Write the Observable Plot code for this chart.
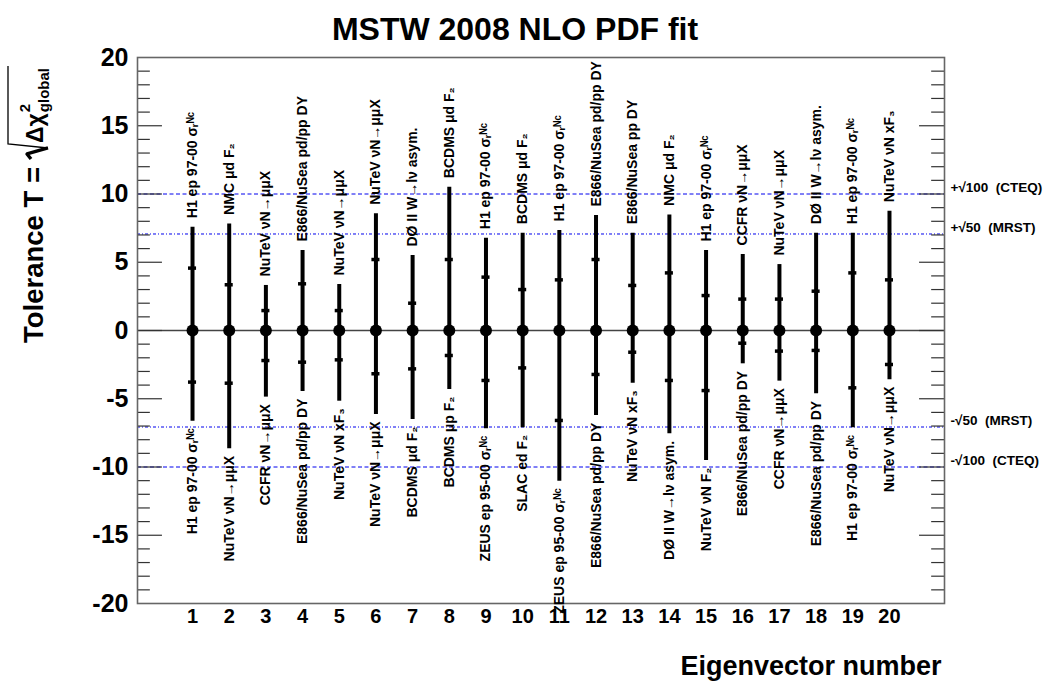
<!DOCTYPE html>
<html>
<head>
<meta charset="utf-8">
<script src="https://cdn.jsdelivr.net/npm/d3@7"></script>
<script src="https://cdn.jsdelivr.net/npm/@observablehq/plot@0.6"></script>
<style>
  body { margin: 0; padding: 0; background: #fff; }
  svg { display: block; }
</style>
</head>
<body>
<div id="chart"></div>
<script>
const eigenvectors = [1,2,3,4,5,6,7,8,9,10,11,12,13,14,15,16,17,18,19,20];
const upperOuter = [7.57, 7.81, 3.30, 5.86, 3.37, 8.55, 5.49, 10.5, 6.76, 7.13, 7.33, 8.42, 7.13, 8.47, 5.86, 5.57, 4.83, 7.13, 7.13, 8.74];
const upperInner = [4.57, 3.35, 1.46, 3.42, 1.46, 5.20, 2.00, 5.20, 3.91, 3.00, 3.71, 5.20, 3.30, 4.22, 2.56, 2.30, 2.30, 2.88, 4.22, 3.71];
const lowerOuter = [-6.64, -8.67, -4.88, -4.47, -5.18, -6.15, -6.52, -4.32, -7.20, -7.13, -11.04, -6.23, -3.86, -7.57, -9.52, -2.44, -3.71, -4.64, -7.13, -3.61];
const lowerInner = [-3.78, -3.86, -2.20, -2.32, -2.15, -3.17, -2.81, -1.83, -3.66, -2.74, -6.59, -3.22, -1.59, -3.66, -4.40, -0.93, -1.51, -1.46, -4.20, -2.49];
const upperLabels = [
  "H1 ep 97-00 σᵣᴺᶜ", "NMC μd F₂", "NuTeV νN→μμX", "E866/NuSea pd/pp DY", "NuTeV νN→μμX",
  "NuTeV νN→μμX", "DØ II W→lν asym.", "BCDMS μd F₂", "H1 ep 97-00 σᵣᴺᶜ", "BCDMS μd F₂",
  "H1 ep 97-00 σᵣᴺᶜ", "E866/NuSea pd/pp DY", "E866/NuSea pp DY", "NMC μd F₂", "H1 ep 97-00 σᵣᴺᶜ",
  "CCFR νN→μμX", "NuTeV νN→μμX", "DØ II W→lν asym.", "H1 ep 97-00 σᵣᴺᶜ", "NuTeV νN xF₃"
];
const lowerLabels = [
  "H1 ep 97-00 σᵣᴺᶜ", "NuTeV νN→μμX", "CCFR νN→μμX", "E866/NuSea pd/pp DY", "NuTeV νN xF₃",
  "NuTeV νN→μμX", "BCDMS μd F₂", "BCDMS μp F₂", "ZEUS ep 95-00 σᵣᴺᶜ", "SLAC ed F₂",
  "ZEUS ep 95-00 σᵣᴺᶜ", "E866/NuSea pd/pp DY", "NuTeV νN xF₃", "DØ II W→lν asym.", "NuTeV νN F₂",
  "E866/NuSea pd/pp DY", "CCFR νN→μμX", "E866/NuSea pd/pp DY", "H1 ep 97-00 σᵣᴺᶜ", "NuTeV νN→μμX"
];
const yTickLabels = [-20, -15, -10, -5, 0, 5, 10, 15, 20];
const minorTicks = [-19,-18,-17,-16,-14,-13,-12,-11,-9,-8,-7,-6,-4,-3,-2,-1,1,2,3,4,6,7,8,9,11,12,13,14,16,17,18,19];
const majorTicks = [-15, -10, -5, 0, 5, 10, 15];
const tolCTEQ = [10, -10];
const tolMRST = [7.07, -7.07];
const tolLabels = ["+√100  (CTEQ)", "+√50  (MRST)", "-√50  (MRST)", "-√100  (CTEQ)"];
const tolLabelValues = [10, 7.07, -7.07, -10];

const data = eigenvectors.map((e, i) => ({
  e, uo: upperOuter[i], ui: upperInner[i], lo: lowerOuter[i], li: lowerInner[i],
  top: upperLabels[i], bottom: lowerLabels[i]
}));
const inner = data.flatMap(d => [{e: d.e, v: d.ui}, {e: d.e, v: d.li}]);
const tols = tolLabelValues.map((v, i) => ({v, t: tolLabels[i]}));

const FONT = "Liberation Sans, Arial, Helvetica, sans-serif";
const xMin = -0.5, xMax = 21.5;
const majorLen = 0.68, minorLen = 0.35;

const chart = Plot.plot({
  width: 1049,
  height: 693,
  marginLeft: 137,
  marginRight: 105,
  marginTop: 57,
  marginBottom: 90,
  style: {fontFamily: FONT, fontWeight: "bold", background: "#fff", overflow: "visible"},
  x: {domain: [xMin, xMax], axis: null},
  y: {domain: [-20, 20], axis: null},
  marks: [
    Plot.ruleY(tolCTEQ, {y: d => d, stroke: "#0000ee", strokeWidth: 1, strokeDasharray: "4,2.5"}),
    Plot.ruleY(tolMRST, {y: d => d, stroke: "#0000ee", strokeWidth: 1, strokeDasharray: "3,2,1,2"}),
    Plot.ruleY([0], {stroke: "#444", strokeWidth: 1.3}),
    Plot.ruleY(majorTicks, {y: d => d, x1: xMin, x2: xMin + majorLen, stroke: "#333", strokeWidth: 1.2}),
    Plot.ruleY(minorTicks, {y: d => d, x1: xMin, x2: xMin + minorLen, stroke: "#333", strokeWidth: 1.2}),
    Plot.ruleY(majorTicks, {y: d => d, x1: xMax - majorLen, x2: xMax, stroke: "#333", strokeWidth: 1.2}),
    Plot.ruleY(minorTicks, {y: d => d, x1: xMax - minorLen, x2: xMax, stroke: "#333", strokeWidth: 1.2}),
    Plot.frame({stroke: "#666", strokeWidth: 1.6}),
    Plot.ruleX(data, {x: "e", y1: "lo", y2: "uo", stroke: "#000", strokeWidth: 4}),
    Plot.ruleY(inner, {y: "v", x1: d => d.e - 0.11, x2: d => d.e + 0.11, stroke: "#000", strokeWidth: 3.5}),
    Plot.dot(data, {x: "e", y: () => 0, r: 6, fill: "#000", stroke: "none"}),
    Plot.text(data, {x: "e", y: "uo", text: "top", rotate: -90, textAnchor: "start", dy: -9,
      fontSize: 14, fontWeight: "bold", fill: "#000"}),
    Plot.text(data, {x: "e", y: "lo", text: "bottom", rotate: -90, textAnchor: "end", dy: 7,
      fontSize: 14, fontWeight: "bold", fill: "#000"}),
    Plot.text(tols, {y: "v", text: "t", frameAnchor: "right", textAnchor: "start", dx: 6, dy: -6,
      fontSize: 13.5, fontWeight: "bold", fill: "#000"}),
    Plot.text(yTickLabels, {y: d => d, text: d => String(d), frameAnchor: "left", textAnchor: "end",
      dx: -9, fontSize: 25, fontWeight: "bold", fill: "#000"}),
    Plot.text(eigenvectors, {x: d => d, text: d => String(d), frameAnchor: "bottom", dy: 19,
      fontSize: 20, fontWeight: "bold", fill: "#000"}),
    Plot.text(["MSTW 2008 NLO PDF fit"], {frameAnchor: "top", text: d => d, dx: -26, dy: -40,
      fontSize: 32, fontWeight: "bold", fill: "#000"}),
    Plot.text(["Eigenvector number"], {frameAnchor: "bottom-right", text: d => d, textAnchor: "end",
      dx: -3, dy: 71, fontSize: 27, fontWeight: "bold", fill: "#000"})
  ]
});

document.getElementById("chart").appendChild(chart);

// y-axis title with radical
const svg = d3.select(chart);
const g = svg.append("g")
  .attr("transform", "translate(43,343) rotate(-90)")
  .attr("font-family", FONT)
  .attr("font-weight", "bold")
  .attr("text-anchor", "start")
  .attr("fill", "#000");
const t1 = g.append("text").attr("x", 0).attr("y", 0).attr("font-size", 27.5)
  .attr("text-anchor", "start").text("Tolerance T =");
const L = t1.node().getComputedTextLength();
const x0 = L + 8;
const dc = g.append("text").attr("x", x0 + 16).attr("y", 0).attr("font-size", 23)
  .attr("text-anchor", "start").text("Δχ");
const dcL = dc.node().getComputedTextLength();
const sx = x0 + 16 + dcL + 1;
g.append("text").attr("x", sx).attr("y", -13).attr("font-size", 15).attr("text-anchor", "start").text("2");
const sub = g.append("text").attr("x", sx).attr("y", 6).attr("font-size", 15).attr("text-anchor", "start").text("global");
const subL = sub.node().getComputedTextLength();
const endX = sx + subL + 2;
g.append("path")
  .attr("d", `M${x0},-12 L${x0 + 5},-16 L${x0 + 11},5`)
  .attr("fill", "none").attr("stroke", "#000").attr("stroke-width", 3.4).attr("stroke-linejoin", "round");
g.append("path")
  .attr("d", `M${x0 + 11},5 L${x0 + 15},-35 L${endX},-35`)
  .attr("fill", "none").attr("stroke", "#000").attr("stroke-width", 1.3);
</script>
</body>
</html>
